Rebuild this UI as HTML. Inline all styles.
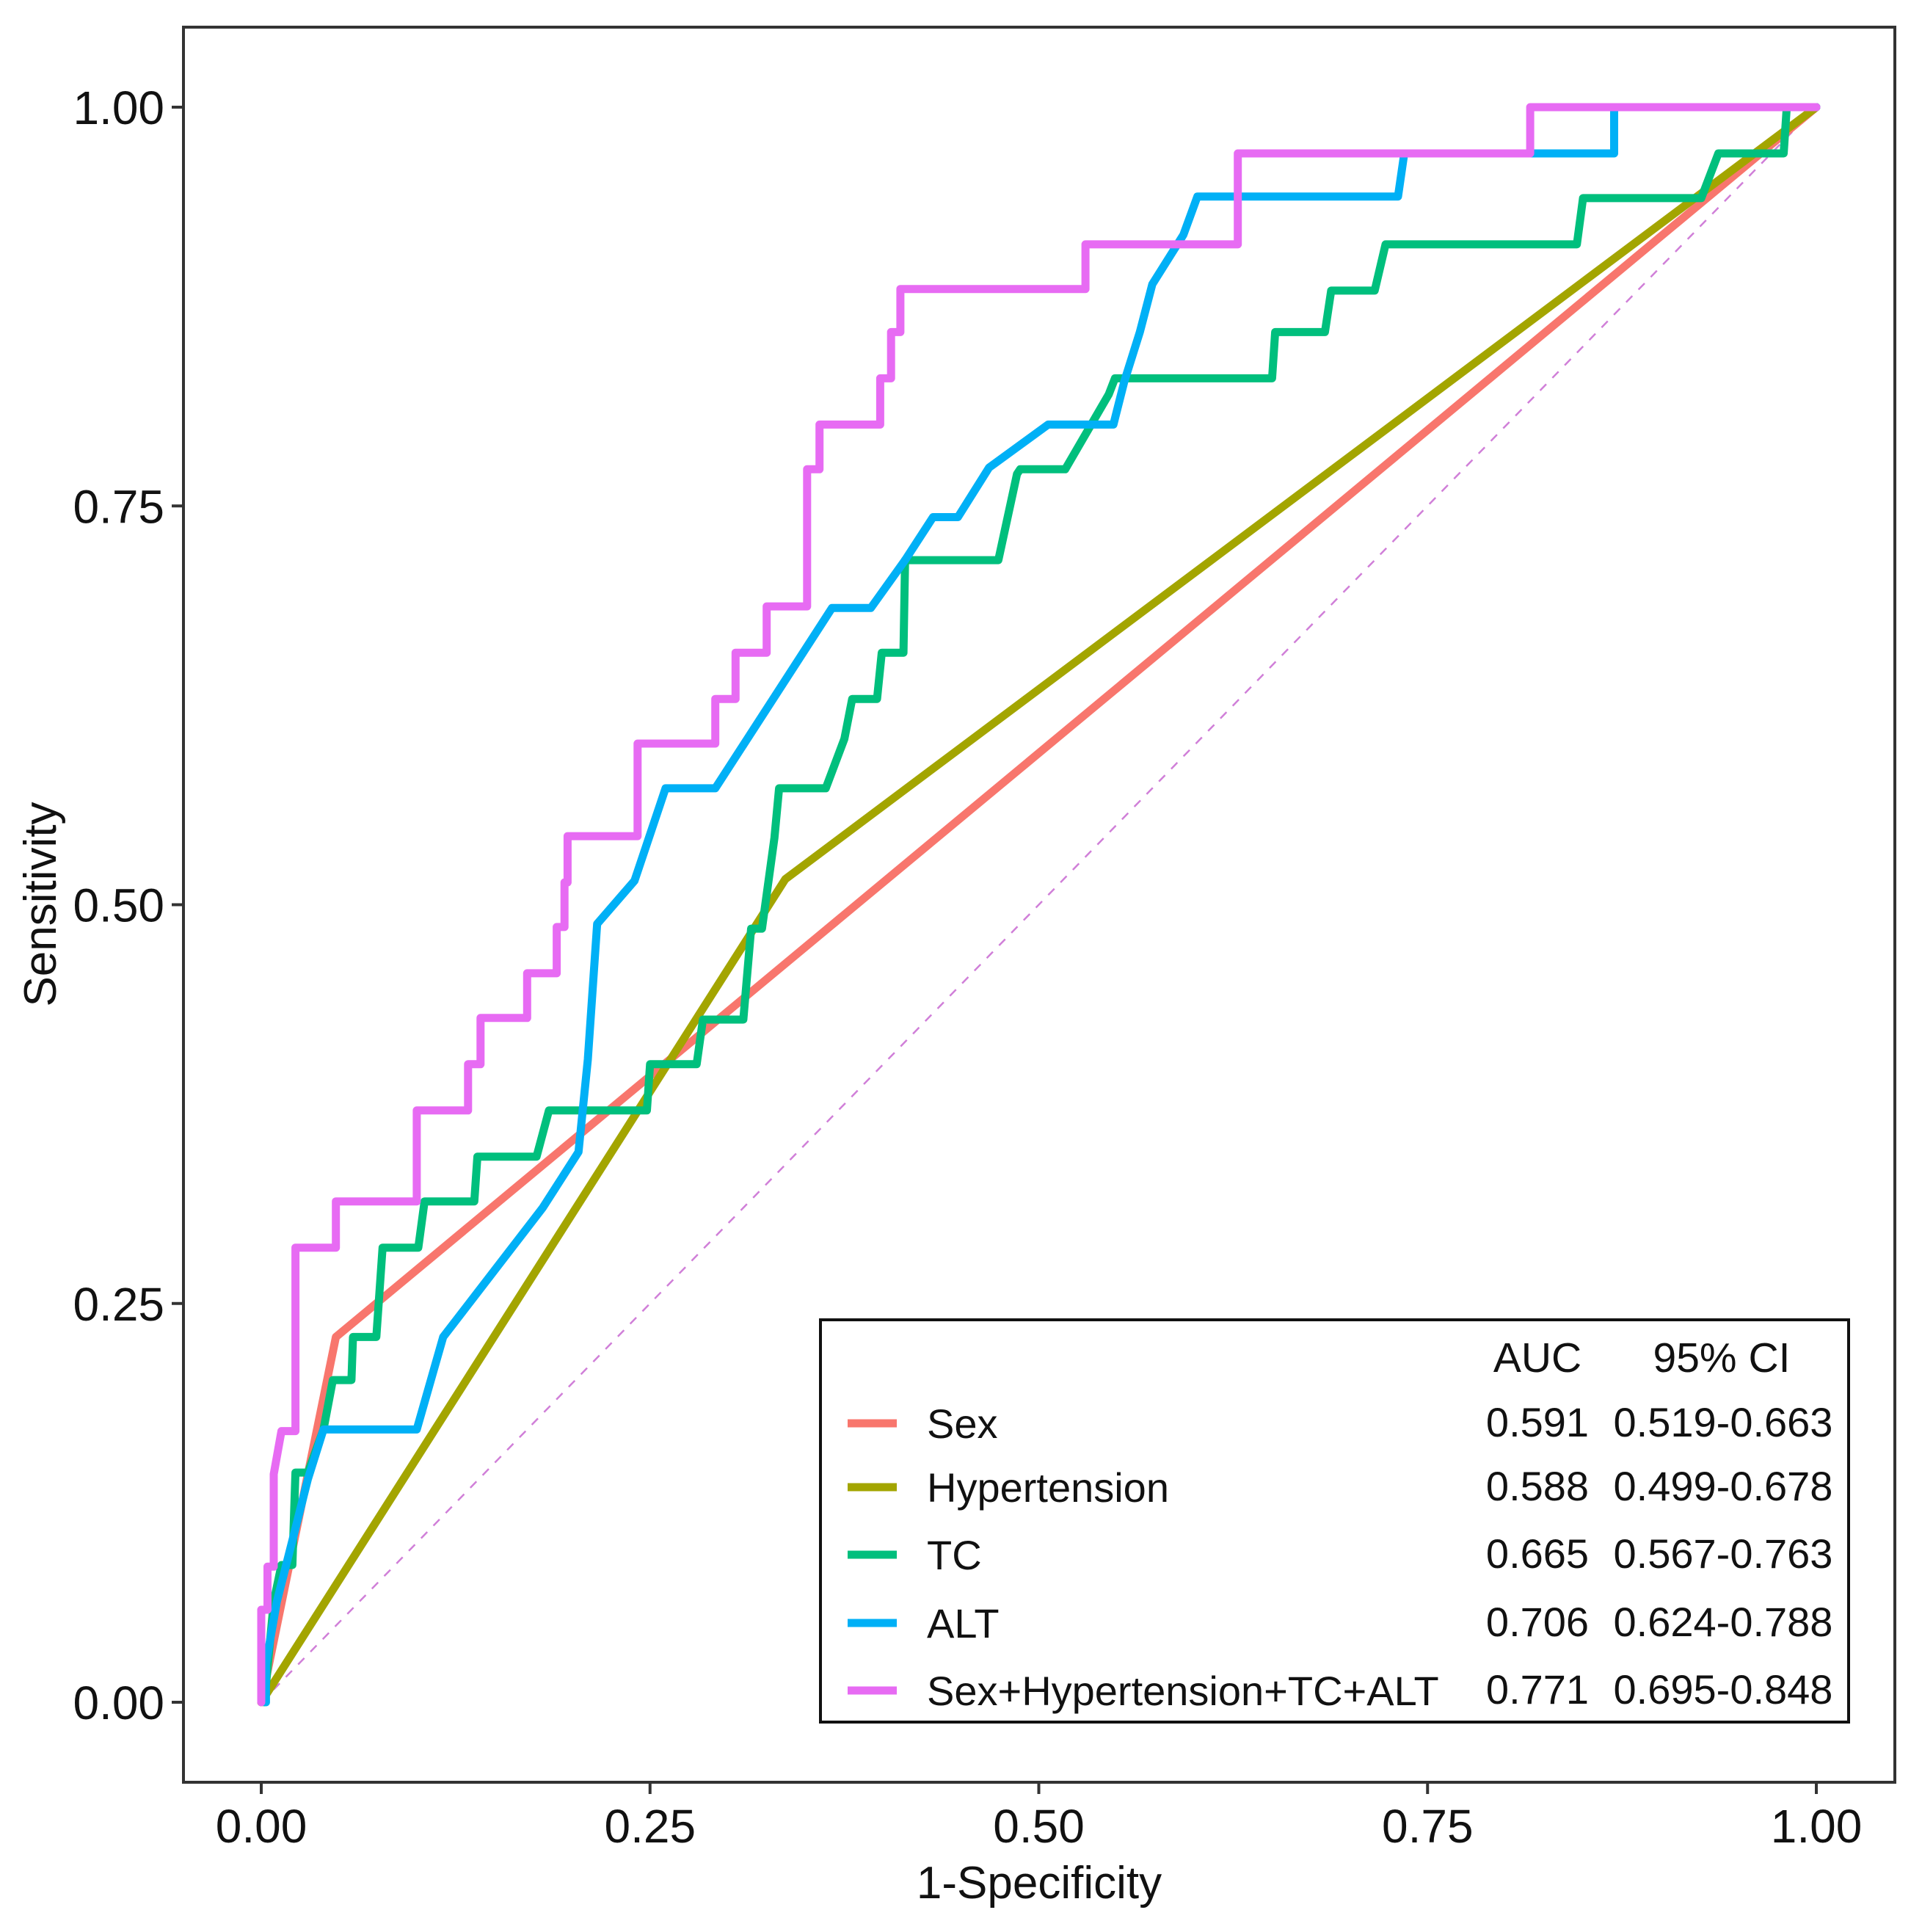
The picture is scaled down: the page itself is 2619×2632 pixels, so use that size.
<!DOCTYPE html>
<html><head><meta charset="utf-8"><style>
html,body{margin:0;padding:0;background:#fff;}
svg{display:block;font-family:"Liberation Sans",Arial,sans-serif;}
</style></head><body>
<svg id="chart" width="2619" height="2632" viewBox="0 0 2619 2632" xmlns="http://www.w3.org/2000/svg">
<rect x="0" y="0" width="2619" height="2632" fill="#fff"/>
<g id="marks"></g>
<rect x="250" y="37" width="2332" height="2391" fill="none" stroke="#333" stroke-width="4"/>
<g id="axes"></g>
<text x="1416" y="2586" font-size="62" text-anchor="middle" fill="#111">1-Specificity</text>
<text transform="translate(76,1232) rotate(-90)" font-size="62" text-anchor="middle" fill="#111">Sensitivity</text>
<g id="legend">
<rect x="1118" y="1798" width="1401" height="548" fill="#fff" stroke="#111" stroke-width="4"/>
<text x="2095" y="1869" font-size="57" text-anchor="middle" fill="#111">AUC</text>
<text x="2346" y="1869" font-size="57" text-anchor="middle" fill="#111">95% CI</text>
</g>
</svg>
<script>
const xTicks=[0,0.25,0.5,0.75,1];
const yTicks=[0,0.25,0.5,0.75,1];
const xTickLabels=["0.00","0.25","0.50","0.75","1.00"];
const yTickLabels=["0.00","0.25","0.50","0.75","1.00"];
const seriesNames=["Sex","Hypertension","TC","ALT","Sex+Hypertension+TC+ALT"];
const aucValues=["0.591","0.588","0.665","0.706","0.771"];
const ciValues=["0.519-0.663","0.499-0.678","0.567-0.763","0.624-0.788","0.695-0.848"];
const sexX=[0,0.048,1];
const sexY=[0,0.229,1];
const hypX=[0,0.337,1];
const hypY=[0,0.516,1];
const tcX=[0.002,0.008,0.013,0.020,0.022,0.030,0.040,0.046,0.058,0.059,0.074,0.078,0.101,0.105,0.137,0.139,0.177,0.185,0.248,0.250,0.280,0.284,0.310,0.315,0.322,0.330,0.333,0.363,0.375,0.380,0.396,0.399,0.413,0.414,0.474,0.486,0.488,0.517,0.545,0.549,0.650,0.652,0.684,0.688,0.716,0.723,0.846,0.850,0.926,0.937,0.979,0.981,1];
const tcY=[0,0.063,0.086,0.086,0.144,0.144,0.171,0.202,0.202,0.229,0.229,0.285,0.285,0.314,0.314,0.342,0.342,0.371,0.371,0.400,0.400,0.428,0.428,0.485,0.485,0.542,0.573,0.573,0.604,0.629,0.629,0.658,0.658,0.716,0.716,0.770,0.773,0.773,0.820,0.830,0.830,0.859,0.859,0.885,0.885,0.914,0.914,0.943,0.943,0.971,0.971,1,1];
const altX=[0.003,0.003,0.010,0.022,0.030,0.040,0.100,0.117,0.181,0.204,0.210,0.216,0.240,0.260,0.292,0.367,0.392,0.414,0.432,0.448,0.468,0.506,0.548,0.555,0.565,0.573,0.593,0.602,0.731,0.735,0.870,0.870,1];
const altY=[0,0.024,0.063,0.109,0.140,0.171,0.171,0.229,0.310,0.345,0.403,0.488,0.515,0.573,0.573,0.686,0.686,0.716,0.743,0.743,0.774,0.801,0.801,0.828,0.859,0.889,0.920,0.944,0.944,0.971,0.971,1,1];
const combX=[0,0,0.004,0.004,0.008,0.008,0.013,0.022,0.022,0.048,0.048,0.100,0.100,0.133,0.133,0.141,0.141,0.171,0.171,0.190,0.190,0.195,0.195,0.197,0.197,0.242,0.242,0.292,0.292,0.305,0.305,0.325,0.325,0.351,0.351,0.359,0.359,0.398,0.398,0.405,0.405,0.411,0.411,0.530,0.530,0.628,0.628,0.816,0.816,1];
const combY=[0,0.058,0.058,0.085,0.085,0.143,0.170,0.170,0.285,0.285,0.314,0.314,0.371,0.371,0.400,0.400,0.429,0.429,0.457,0.457,0.486,0.486,0.514,0.514,0.543,0.543,0.601,0.601,0.629,0.629,0.658,0.658,0.687,0.687,0.773,0.773,0.801,0.801,0.830,0.830,0.859,0.859,0.886,0.886,0.914,0.914,0.971,0.971,1,1];

const NS="http://www.w3.org/2000/svg";
const sx=v=>356+v*2119;
const sy=v=>2319-v*2173;
const colors=["#F8766D","#A3A500","#00BF7D","#00B0F6","#E76BF3"];
const marks=document.getElementById('marks');
const axes=document.getElementById('axes');
const legend=document.getElementById('legend');
function mk(tag,attrs,parent){const e=document.createElementNS(NS,tag);for(const k in attrs)e.setAttribute(k,attrs[k]);parent.appendChild(e);return e;}

const diag=mk('line',{x1:sx(0),y1:sy(0),x2:sx(1),y2:sy(1),stroke:"#D07FD8","stroke-width":2.5,"stroke-dasharray":"12 12"},marks);



const seriesX=[sexX,hypX,tcX,altX,combX];
const seriesY=[sexY,hypY,tcY,altY,combY];
const slugs=["sex","hypertension","tc","alt","combined"];
for(let s=0;s<5;s++){
  const pts=seriesX[s].map((x,i)=>sx(x).toFixed(1)+","+sy(seriesY[s][i]).toFixed(1)).join(" ");
  const pl=mk('polyline',{points:pts,fill:"none",stroke:colors[s],"stroke-width":11,"stroke-linejoin":"round","stroke-linecap":"round"},marks);
  
  
}

for(let i=0;i<xTicks.length;i++){
  const t=mk('line',{x1:sx(xTicks[i]),y1:2428,x2:sx(xTicks[i]),y2:2444,stroke:"#333","stroke-width":4},axes);
  
  
  const l=mk('text',{x:sx(xTicks[i]),y:2510,"font-size":64,"text-anchor":"middle",fill:"#111"},axes);
  l.textContent=xTickLabels[i];
  
  
}
for(let i=0;i<yTicks.length;i++){
  const t=mk('line',{x1:234,y1:sy(yTicks[i]),x2:250,y2:sy(yTicks[i]),stroke:"#333","stroke-width":4},axes);
  
  
  const l=mk('text',{x:224,y:sy(yTicks[i])+23,"font-size":64,"text-anchor":"end",fill:"#111"},axes);
  l.textContent=yTickLabels[i];
  
  
}

const rowY=[1939,2026,2118,2211,2303];
for(let s=0;s<5;s++){
  const ln=mk('line',{x1:1155,y1:rowY[s],x2:1222,y2:rowY[s],stroke:colors[s],"stroke-width":11},legend);
  
  
  const t=mk('text',{x:1263,y:rowY[s]+20,"font-size":56,fill:"#111"},legend);
  t.textContent=seriesNames[s];
  
  
  const a=mk('text',{x:2095,y:rowY[s]+18,"font-size":56,"text-anchor":"middle",fill:"#111"},legend);
  a.textContent=aucValues[s];
  
  
  const c=mk('text',{x:2348,y:rowY[s]+18,"font-size":56,"text-anchor":"middle",fill:"#111"},legend);
  c.textContent=ciValues[s];
  
  
}
</script>
</body></html>
